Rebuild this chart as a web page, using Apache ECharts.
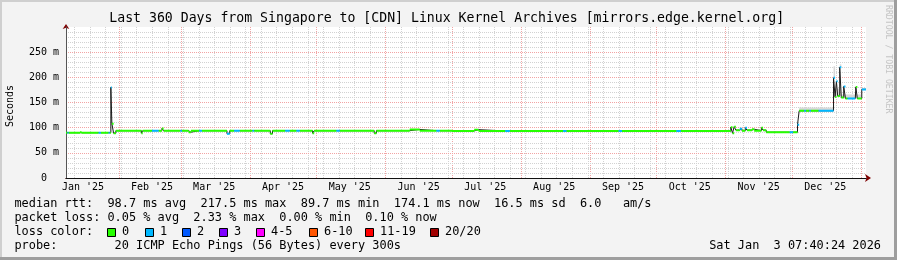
<!DOCTYPE html>
<html><head><meta charset="utf-8">
<script src="https://cdn.jsdelivr.net/npm/echarts@6/dist/echarts.min.js"></script>
<style>html,body{margin:0;padding:0;background:#f3f3f3}#c{width:897px;height:260px}</style>
</head><body><div id="c"></div>
<script>
// ---------- data ----------
const START = '2025-01-08 07:40:24';
const END = '2026-01-03 07:40:24';
const titleText = 'Last 360 Days from Singapore to [CDN] Linux Kernel Archives [mirrors.edge.kernel.org]';
const monthStarts = ['2025-02-01','2025-03-01','2025-04-01','2025-05-01','2025-06-01','2025-07-01','2025-08-01','2025-09-01','2025-10-01','2025-11-01','2025-12-01','2026-01-01'];
const monthLabelDates = ['2025-01-16','2025-02-16','2025-03-16','2025-04-16','2025-05-16','2025-06-16','2025-07-16','2025-08-16','2025-09-16','2025-10-16','2025-11-16','2025-12-16'];
const monthLabels = ["Jan '25","Feb '25","Mar '25","Apr '25","May '25","Jun '25","Jul '25","Aug '25","Sep '25","Oct '25","Nov '25","Dec '25"];
const firstWeekLine = '2025-01-12';
const yTicks = [0,50,100,150,200,250,300];
const yTickLabels = ['0  ','50 m','100 m','150 m','200 m','250 m',''];

const medianTimes = ['2025-01-08 07:40:24','2025-01-09 00:00','2025-01-09 12:00','2025-01-14 18:00','2025-01-15 06:00','2025-01-23 00:00','2025-01-24 00:00','2025-01-27 12:00','2025-01-28 00:00','2025-01-28 12:00','2025-01-28 23:00','2025-01-29 18:00','2025-01-30 18:00','2025-02-11 06:00','2025-02-11 20:00','2025-02-16 00:00','2025-02-19 00:00','2025-02-20 12:00','2025-02-21 06:00','2025-02-28 18:00','2025-03-01 12:00','2025-03-04 12:00','2025-03-05 12:00','2025-03-09 06:00','2025-03-10 12:00','2025-03-21 18:00','2025-03-23 00:00','2025-03-25 00:00','2025-03-27 12:00','2025-04-02 06:00','2025-04-03 00:00','2025-04-10 06:00','2025-04-11 06:00','2025-04-17 00:00','2025-04-19 00:00','2025-04-22 00:00','2025-04-23 12:00','2025-04-29 06:00','2025-04-30 00:00','2025-05-10 00:00','2025-05-11 12:00','2025-05-27 00:00','2025-05-28 00:00','2025-06-12 00:00','2025-06-16 12:00','2025-06-24 00:00','2025-06-25 12:00','2025-07-01 00:00','2025-07-11 00:00','2025-07-13 00:00','2025-07-25 00:00','2025-07-27 00:00','2025-08-20 00:00','2025-08-21 12:00','2025-09-14 00:00','2025-09-15 12:00','2025-10-10 00:00','2025-10-12 00:00','2025-11-03 12:00','2025-11-04 06:00','2025-11-05 00:00','2025-11-05 18:00','2025-11-07 12:00','2025-11-08 12:00','2025-11-10 00:00','2025-11-10 18:00','2025-11-13 00:00','2025-11-14 00:00','2025-11-17 06:00','2025-11-18 00:00','2025-11-19 10:00','2025-11-30 00:00','2025-12-01 12:00','2025-12-03 12:00','2025-12-04 06:00','2025-12-06 12:00','2025-12-07 06:00','2025-12-08 20:00','2025-12-09 12:00','2025-12-13 00:00','2025-12-19 17:00','2025-12-20 10:00','2025-12-21 00:00','2025-12-21 14:00','2025-12-22 12:00','2025-12-23 05:00','2025-12-24 07:00','2025-12-25 02:00','2025-12-26 00:00','2025-12-29 12:00','2025-12-29 18:00','2025-12-30 10:00','2026-01-01 10:00'];
const medianValues = [90,90,90,91.5,90,90,90,90,90,180,108,89,94,89,94,94,94,98.5,94,94,94,91,94,94,94,88,94,94,94,94,94,88,94,94,94,94,94,89,94,94,94,89,94,96.5,94,94,94,93.5,96,93.5,93.5,93.5,93.5,93.5,93.5,93.5,93.5,93.5,101,89,102,95,98,94,100,95,97,94,100,95,91,91,91,106,133.5,133.5,133.5,133.5,133.5,133.5,199,161,192,163,220,160,182,158,158,158,181,158,176];
const medianLoss = [0,1,0,0,0,1,0,1,0,1,0,0,0,0,0,1,0,0,0,1,0,0,0,1,0,1,0,1,0,1,0,0,0,1,0,1,0,0,0,1,0,0,0,0,0,1,0,0,0,0,1,0,1,0,1,0,1,0,0,0,0,0,1,0,1,0,0,0,0,0,0,1,0,1,0,1,0,1,0,1,1,0,1,0,1,0,1,0,1,0,0,0,1];

const smokeStart = ['2025-12-04 06:00','2025-12-19 17:00','2025-12-20 10:00','2025-12-22 12:00','2025-12-23 05:00','2026-01-01 10:00'];
const smokeEnd   = ['2025-12-19 17:00','2025-12-20 10:00','2025-12-22 12:00','2025-12-23 05:00','2026-01-01 10:00','2026-01-03 07:40:24'];
const smokeLow   = [133.5,199,161,220,158,176];
const smokeHigh  = [140,222,178,226,166,179];

const lossColors = ['#26ff00','#00b8ff','#0059ff','#7e00ff','#ff00ff','#ff5500','#ff0000','#a10000'];
const lossLabels = ['0','1','2','3','4-5','6-10','11-19','20/20'];
const statLine1 = 'median rtt:  98.7 ms avg  217.5 ms max  89.7 ms min  174.1 ms now  16.5 ms sd  6.0   am/s';
const statLine2 = 'packet loss: 0.05 % avg  2.33 % max  0.00 % min  0.10 % now';
const lossTitle = 'loss color:';
const probeLine = 'probe:        20 ICMP Echo Pings (56 Bytes) every 300s';
const dateLine = 'Sat Jan  3 07:40:24 2026';
const yName = 'Seconds';
const sideText = 'RRDTOOL / TOBI OETIKER';

// ---------- helpers ----------
function ts(s){ const p = s.split(' '); let t = p[1] || '00:00:00'; if (t.length === 5) t += ':00'; return Date.parse(p[0] + 'T' + t + 'Z'); }
const T0 = ts(START), T1 = ts(END);
const weekLines = [];
for (let t = ts(firstWeekLine); t < T1; t += 7 * 86400000) weekLines.push([t, 0]);
const monthLines = monthStarts.map(d => [ts(d), 0]);
const labelTs = monthLabelDates.map(ts);

const medianData = medianTimes.map((t, i) => [ts(t), medianValues[i]]);
medianData.push([T1, medianValues[medianValues.length - 1]]);

const lossSeries = lossColors.map((c, b) => {
  const d = [];
  for (let i = 0; i < medianTimes.length; i++) {
    if (medianLoss[i] !== b) continue;
    const a = ts(medianTimes[i]);
    const e = i + 1 < medianTimes.length ? ts(medianTimes[i + 1]) : T1;
    d.push([a, medianValues[i]], [e, medianValues[i]], [e, null]);
  }
  return { type: 'line', data: d, connectNulls: false, showSymbol: false, symbol: 'none', z: 4,
    lineStyle: { color: c, width: 2 }, silent: true, animation: false };
});

const smokeData = smokeStart.map((s, i) => [ts(s), ts(smokeEnd[i]), smokeLow[i], smokeHigh[i]]);

function vLine(color) {
  return function (params, api) {
    const p = api.coord([api.value(0), 0]);
    const q = api.coord([api.value(0), 300]);
    const x = Math.round(p[0]) + 0.5;
    return { type: 'line', shape: { x1: x, y1: p[1], x2: x, y2: q[1] }, style: { stroke: color, lineWidth: 1, lineDash: [1, 1] } };
  };
}

const MONO = '"DejaVu Sans Mono", monospace';
const fontL = '11.9px ' + MONO;
const RED = '#f2a4a4';
const GRAY = '#d2d2d2';

const graphics = [
  { type: 'rect', shape: { x: 0, y: 0, width: 897, height: 2 }, style: { fill: '#cfcfcf' }, silent: true },
  { type: 'rect', shape: { x: 0, y: 0, width: 2, height: 260 }, style: { fill: '#cfcfcf' }, silent: true },
  { type: 'rect', shape: { x: 0, y: 257, width: 897, height: 3 }, style: { fill: '#9e9e9e' }, silent: true },
  { type: 'rect', shape: { x: 894, y: 0, width: 3, height: 260 }, style: { fill: '#9e9e9e' }, silent: true },
  { type: 'text', x: 446.7, y: 18.5, style: { text: titleText, font: '13.2px ' + MONO, fill: '#000', align: 'center', verticalAlign: 'middle' } },
  { type: 'text', x: 10, y: 106, rotation: Math.PI / 2, style: { text: yName, font: '10px ' + MONO, fill: '#000', align: 'center', verticalAlign: 'middle' } },
  { type: 'text', x: 888, y: 5, rotation: -Math.PI / 2, style: { text: sideText, font: '8.2px ' + MONO, fill: '#c4c4c4', align: 'left', verticalAlign: 'middle' } },
  { type: 'text', x: 14.4, y: 204.3, style: { text: statLine1, font: fontL, fill: '#000', verticalAlign: 'middle' } },
  { type: 'text', x: 14.4, y: 218.3, style: { text: statLine2, font: fontL, fill: '#000', verticalAlign: 'middle' } },
  { type: 'text', x: 14.4, y: 232.3, style: { text: lossTitle, font: fontL, fill: '#000', verticalAlign: 'middle' } },
  { type: 'text', x: 14.4, y: 246.3, style: { text: probeLine, font: fontL, fill: '#000', verticalAlign: 'middle' } },
  { type: 'text', x: 881, y: 246.3, style: { text: dateLine, font: fontL, fill: '#000', align: 'right', verticalAlign: 'middle' } }
];
const lossBoxX = [107, 145, 182, 219, 256, 309, 365, 430];
lossColors.forEach((c, i) => {
  graphics.push({ type: 'rect', shape: { x: lossBoxX[i] + 0.5, y: 228.5, width: 8, height: 8 }, style: { fill: c, stroke: '#000', lineWidth: 1 } });
  graphics.push({ type: 'text', x: lossBoxX[i] + 15, y: 232.3, style: { text: lossLabels[i], font: fontL, fill: '#000', verticalAlign: 'middle' } });
});

const chart = echarts.init(document.getElementById('c'), null, { renderer: 'canvas' });
chart.setOption({
  animation: false,
  backgroundColor: '#f3f3f3',
  grid: { left: 66, right: 31, top: 27, bottom: 82, show: true, backgroundColor: '#ffffff', borderWidth: 0 },
  xAxis: [
    { type: 'value', min: T0, max: T1, position: 'bottom', z: 3,
      axisLine: { show: true, onZero: false, lineStyle: { color: '#111', width: 1 } },
      axisTick: { show: false }, splitLine: { show: false },
      axisLabel: { customValues: labelTs, margin: 4, color: '#000', fontFamily: MONO, fontSize: 10,
        formatter: v => { const k = labelTs.indexOf(v); return k >= 0 ? monthLabels[k] : ''; } } },
    { type: 'value', min: T0, max: T1, position: 'bottom', z: 2,
      axisLine: { show: true, onZero: false, symbol: ['none', 'arrow'], symbolSize: [6, 6], symbolOffset: [0, 5], lineStyle: { color: '#7f0000', width: 1 } },
      axisTick: { show: false }, splitLine: { show: false }, axisLabel: { show: false } }
  ],
  yAxis: [
    { type: 'value', min: 0, max: 300, interval: 50, position: 'left', z: 3,
      axisLine: { show: true, onZero: false, lineStyle: { color: '#555', width: 1 } },
      axisTick: { show: false },
      axisLabel: { margin: 7, color: '#000', fontFamily: MONO, fontSize: 10, showMaxLabel: false,
        formatter: v => { const k = yTicks.indexOf(v); return k >= 0 ? yTickLabels[k] : ''; } },
      splitLine: { show: true, lineStyle: { color: [RED, RED, RED, RED, RED, RED, 'rgba(0,0,0,0)'], type: [1, 1], width: 1 } },
      minorTick: { show: false, splitNumber: 5 },
      minorSplitLine: { show: true, lineStyle: { color: GRAY, type: [1, 1], width: 1 } } },
    { type: 'value', min: 0, max: 300, position: 'left', z: 2,
      axisLine: { show: true, onZero: false, symbol: ['none', 'arrow'], symbolSize: [5, 5], symbolOffset: [0, 3], lineStyle: { color: '#7f0000', width: 1 } },
      axisTick: { show: false }, splitLine: { show: false }, axisLabel: { show: false } }
  ],
  series: [
    { type: 'custom', data: weekLines, encode: { x: 0, y: 1 }, renderItem: vLine(GRAY), z: 1, silent: true, clip: true },
    { type: 'custom', data: monthLines, encode: { x: 0, y: 1 }, renderItem: vLine(RED), z: 1, silent: true, clip: true },
    { type: 'custom', data: smokeData, encode: { x: [0, 1], y: [2, 3] }, z: 2, silent: true, clip: true,
      renderItem: (params, api) => {
        const a = api.coord([api.value(0), api.value(3)]);
        const b = api.coord([api.value(1), api.value(2)]);
        return { type: 'rect', shape: { x: a[0], y: a[1], width: b[0] - a[0], height: b[1] - a[1] }, style: { fill: '#d9d9d9' } };
      } },
    { type: 'line', data: medianData, step: 'end', showSymbol: false, symbol: 'none', z: 3, silent: true,
      lineStyle: { color: '#1a1a1a', width: 1 } }
  ].concat(lossSeries),
  graphic: graphics
});
</script></body></html>
